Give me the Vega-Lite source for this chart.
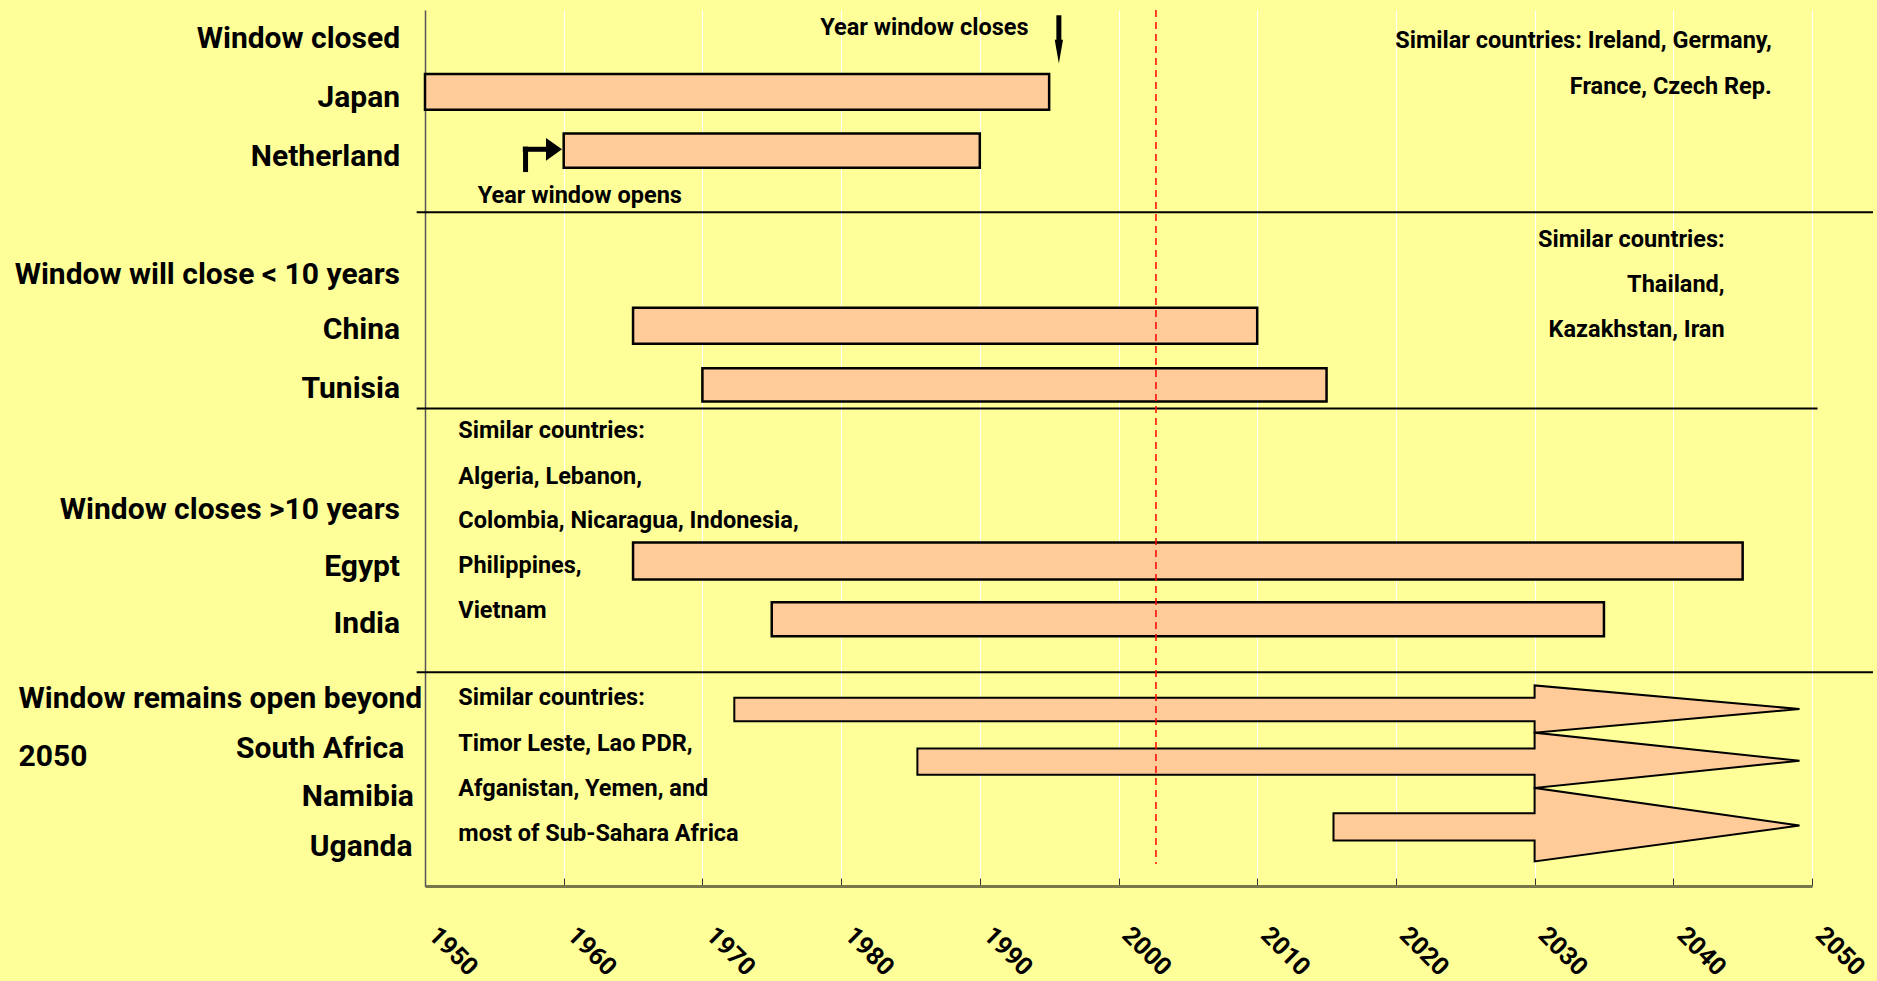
{
  "$schema": "https://vega.github.io/schema/vega-lite/v6.json",
  "width": 1387,
  "height": 876,
  "autosize": {"type": "none"},
  "padding": {"left": 425, "top": 10, "right": 65, "bottom": 95},
  "background": "#FFFF99",
  "config": {
    "view": {"stroke": null},
    "font": "Roboto",
    "axisX": {
      "grid": true, "gridColor": "#FFFFFF", "gridWidth": 1,
      "domainColor": "#77774a", "domainWidth": 3,
      "tickColor": "#333333", "tickSize": -8, "tickWidth": 1,
      "labelAngle": 45, "labelFont": "Roboto", "labelFontSize": 25,
      "labelFontWeight": "bold", "labelColor": "#000000", "labelPadding": 44, "labelOffset": 16,
      "labelAlign": "left", "labelBaseline": "top", "title": null
    },
    "axisY": {"grid": false, "ticks": false, "labels": false, "domainColor": "#555555", "domainWidth": 1.5, "title": null}
  },
  "datasets": {
    "bars": [
      {"country": "Japan", "start": 1950, "end": 1995, "top": 7.3, "bottom": 11.4},
      {"country": "Netherland", "start": 1960, "end": 1990, "top": 14.1, "bottom": 18.0},
      {"country": "China", "start": 1965, "end": 2010, "top": 34.0, "bottom": 38.1},
      {"country": "Tunisia", "start": 1970, "end": 2015, "top": 40.9, "bottom": 44.7},
      {"country": "Egypt", "start": 1965, "end": 2045, "top": 60.8, "bottom": 65.0},
      {"country": "India", "start": 1975, "end": 2035, "top": 67.6, "bottom": 71.5}
    ],
    "arrows": [
      {"country": "South Africa", "year": 1972.3, "top": 78.5, "bottom": 81.2},
      {"country": "South Africa", "year": 2030, "top": 78.5, "bottom": 81.2},
      {"country": "South Africa", "year": 2030, "top": 77.1, "bottom": 82.5},
      {"country": "South Africa", "year": 2049.1, "top": 79.8, "bottom": 79.8},
      {"country": "Namibia", "year": 1985.5, "top": 84.3, "bottom": 87.3},
      {"country": "Namibia", "year": 2030, "top": 84.3, "bottom": 87.3},
      {"country": "Namibia", "year": 2030, "top": 82.5, "bottom": 88.8},
      {"country": "Namibia", "year": 2049.1, "top": 85.7, "bottom": 85.7},
      {"country": "Uganda", "year": 2015.5, "top": 91.7, "bottom": 94.8},
      {"country": "Uganda", "year": 2030, "top": 91.7, "bottom": 94.8},
      {"country": "Uganda", "year": 2030, "top": 88.8, "bottom": 97.2},
      {"country": "Uganda", "year": 2049.1, "top": 93.1, "bottom": 93.1}
    ],
    "separators": [
      {"from": 1949.4, "to": 2054.4, "y": 23.1},
      {"from": 1949.4, "to": 2050.4, "y": 45.5},
      {"from": 1949.4, "to": 2054.4, "y": 75.6}
    ],
    "texts": [
      {"text": "Window closed", "x": 1948.2, "y": 3.1, "kind": "bigR"},
      {"text": "Japan", "x": 1948.2, "y": 9.8, "kind": "bigR"},
      {"text": "Netherland", "x": 1948.2, "y": 16.6, "kind": "bigR"},
      {"text": "Window will close < 10 years", "x": 1948.2, "y": 30.0, "kind": "bigR"},
      {"text": "China", "x": 1948.2, "y": 36.3, "kind": "bigR"},
      {"text": "Tunisia", "x": 1948.2, "y": 43.0, "kind": "bigR"},
      {"text": "Window closes >10 years", "x": 1948.2, "y": 56.8, "kind": "bigR"},
      {"text": "Egypt", "x": 1948.2, "y": 63.4, "kind": "bigR"},
      {"text": "India", "x": 1948.2, "y": 69.9, "kind": "bigR"},
      {"text": "South Africa", "x": 1948.5, "y": 84.1, "kind": "bigR"},
      {"text": "Namibia", "x": 1949.2, "y": 89.6, "kind": "bigR"},
      {"text": "Uganda", "x": 1949.1, "y": 95.3, "kind": "bigR"},
      {"text": "Window remains open beyond", "x": 1920.7, "y": 78.4, "kind": "bigL"},
      {"text": "2050", "x": 1920.7, "y": 85.0, "kind": "bigL"},
      {"text": "Similar countries: Ireland, Germany,", "x": 2047.1, "y": 3.3, "kind": "smallR"},
      {"text": "France, Czech Rep.", "x": 2047.1, "y": 8.6, "kind": "smallR"},
      {"text": "Similar countries:", "x": 2043.7, "y": 26.0, "kind": "smallR"},
      {"text": "Thailand,", "x": 2043.7, "y": 31.2, "kind": "smallR"},
      {"text": "Kazakhstan, Iran", "x": 2043.7, "y": 36.3, "kind": "smallR"},
      {"text": "Year window opens", "x": 1953.8, "y": 21.1, "kind": "smallL"},
      {"text": "Similar countries:", "x": 1952.4, "y": 47.9, "kind": "smallL"},
      {"text": "Algeria, Lebanon,", "x": 1952.4, "y": 53.2, "kind": "smallL"},
      {"text": "Colombia, Nicaragua, Indonesia,", "x": 1952.4, "y": 58.2, "kind": "smallL"},
      {"text": "Philippines,", "x": 1952.4, "y": 63.4, "kind": "smallL"},
      {"text": "Vietnam", "x": 1952.4, "y": 68.5, "kind": "smallL"},
      {"text": "Similar countries:", "x": 1952.4, "y": 78.4, "kind": "smallL"},
      {"text": "Timor Leste, Lao PDR,", "x": 1952.4, "y": 83.7, "kind": "smallL"},
      {"text": "Afganistan, Yemen, and", "x": 1952.4, "y": 88.8, "kind": "smallL"},
      {"text": "most of Sub-Sahara Africa", "x": 1952.4, "y": 93.9, "kind": "smallL"},
      {"text": "Year window closes", "x": 1986.0, "y": 1.9, "kind": "smallC"}
    ],
    "pointers": [
      {"name": "closes", "x": 1995.7, "x2": 1995.7, "y": 0.6, "y2": 3.6},
      {"name": "opens-v", "x": 1957.25, "x2": 1957.25, "y": 18.5, "y2": 15.6},
      {"name": "opens-h", "x": 1957.05, "x2": 1958.8, "y": 15.9, "y2": 15.9}
    ],
    "heads": [
      {"name": "closes", "x": 1995.7, "y": 4.75, "dir": "down"},
      {"name": "opens", "x": 1959.3, "y": 15.9, "dir": "right"}
    ]
  },
  "layer": [
    {
      "data": {"name": "bars"},
      "mark": {"type": "rect", "fill": "#FFCC99", "stroke": "#000000", "strokeWidth": 2.5},
      "encoding": {
        "x": {"field": "start", "type": "quantitative", "scale": {"domain": [1950, 2050], "nice": false, "zero": false},
              "axis": {"values": [1950, 1960, 1970, 1980, 1990, 2000, 2010, 2020, 2030, 2040, 2050], "format": "d"}},
        "x2": {"field": "end"},
        "y": {"field": "top", "type": "quantitative", "scale": {"domain": [0, 100], "reverse": true, "nice": false, "zero": false}},
        "y2": {"field": "bottom"}
      }
    },
    {
      "data": {"name": "arrows"},
      "mark": {"type": "area", "fill": "#FFCC99", "fillOpacity": 1, "stroke": "#000000", "strokeWidth": 2, "interpolate": "linear"},
      "encoding": {
        "x": {"field": "year", "type": "quantitative"},
        "y": {"field": "top", "type": "quantitative"},
        "y2": {"field": "bottom"},
        "detail": {"field": "country"}
      }
    },
    {
      "data": {"name": "separators"},
      "mark": {"type": "rule", "color": "#000000", "strokeWidth": 2},
      "encoding": {
        "x": {"field": "from", "type": "quantitative"},
        "x2": {"field": "to"},
        "y": {"field": "y", "type": "quantitative"}
      }
    },
    {
      "data": {"values": [{"year": 2002.7, "y": 0, "y2": 97.5}]},
      "mark": {"type": "rule", "color": "#FF0000", "strokeWidth": 1.5, "strokeDash": [7, 5]},
      "encoding": {
        "x": {"field": "year", "type": "quantitative"},
        "y": {"field": "y", "type": "quantitative"},
        "y2": {"field": "y2"}
      }
    },
    {
      "data": {"name": "pointers"},
      "mark": {"type": "rule", "color": "#000000", "strokeWidth": 5},
      "encoding": {
        "x": {"field": "x", "type": "quantitative"},
        "x2": {"field": "x2"},
        "y": {"field": "y", "type": "quantitative"},
        "y2": {"field": "y2"}
      }
    },
    {
      "data": {"name": "heads"},
      "transform": [{"filter": "datum.dir === 'down'"}],
      "mark": {"type": "point", "shape": "M-0.35,-1L0.35,-1L0,1Z", "filled": true, "color": "#000000", "opacity": 1, "size": 560},
      "encoding": {
        "x": {"field": "x", "type": "quantitative"},
        "y": {"field": "y", "type": "quantitative"}
      }
    },
    {
      "data": {"name": "heads"},
      "transform": [{"filter": "datum.dir === 'right'"}],
      "mark": {"type": "point", "shape": "M-0.7,-1L0.7,0L-0.7,1Z", "filled": true, "color": "#000000", "opacity": 1, "size": 520},
      "encoding": {
        "x": {"field": "x", "type": "quantitative"},
        "y": {"field": "y", "type": "quantitative"}
      }
    },
    {
      "data": {"name": "texts"},
      "transform": [{"filter": "datum.kind === 'bigR'"}],
      "mark": {"type": "text", "align": "right", "baseline": "middle", "dy": 2, "fontSize": 30, "fontWeight": "bold", "color": "#000000", "font": "Roboto"},
      "encoding": {
        "x": {"field": "x", "type": "quantitative"},
        "y": {"field": "y", "type": "quantitative"},
        "text": {"field": "text"}
      }
    },
    {
      "data": {"name": "texts"},
      "transform": [{"filter": "datum.kind === 'bigL'"}],
      "mark": {"type": "text", "align": "left", "baseline": "middle", "dy": 2, "fontSize": 30, "fontWeight": "bold", "color": "#000000", "font": "Roboto"},
      "encoding": {
        "x": {"field": "x", "type": "quantitative"},
        "y": {"field": "y", "type": "quantitative"},
        "text": {"field": "text"}
      }
    },
    {
      "data": {"name": "texts"},
      "transform": [{"filter": "datum.kind === 'smallR'"}],
      "mark": {"type": "text", "align": "right", "baseline": "middle", "dy": 2, "fontSize": 23.5, "fontWeight": "bold", "color": "#000000", "font": "Roboto"},
      "encoding": {
        "x": {"field": "x", "type": "quantitative"},
        "y": {"field": "y", "type": "quantitative"},
        "text": {"field": "text"}
      }
    },
    {
      "data": {"name": "texts"},
      "transform": [{"filter": "datum.kind === 'smallL'"}],
      "mark": {"type": "text", "align": "left", "baseline": "middle", "dy": 1, "fontSize": 23.5, "fontWeight": "bold", "color": "#000000", "font": "Roboto"},
      "encoding": {
        "x": {"field": "x", "type": "quantitative"},
        "y": {"field": "y", "type": "quantitative"},
        "text": {"field": "text"}
      }
    },
    {
      "data": {"name": "texts"},
      "transform": [{"filter": "datum.kind === 'smallC'"}],
      "mark": {"type": "text", "align": "center", "baseline": "middle", "dy": 1, "fontSize": 23.5, "fontWeight": "bold", "color": "#000000", "font": "Roboto"},
      "encoding": {
        "x": {"field": "x", "type": "quantitative"},
        "y": {"field": "y", "type": "quantitative"},
        "text": {"field": "text"}
      }
    }
  ]
}
